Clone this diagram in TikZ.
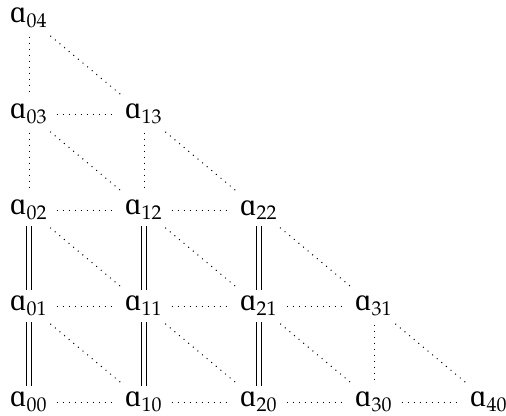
\documentclass[tikz,border=0pt]{standalone}
\usepackage{mathpazo}
\usepackage[no-math]{fontspec}
\newfontfamily\ipafont{Liberation Serif}
\begin{document}
\begin{tikzpicture}[x=0.4pt,y=0.4pt,
  lbl/.style={inner sep=2.5pt,outer sep=0pt,font=\fontsize{10.5}{12}\selectfont},
  dot/.style={dotted,line width=0.4pt,shorten >=1pt,shorten <=1pt},
  eqv/.style={double,double distance=1.5pt,line width=0.4pt}]
\useasboundingbox (0,0) rectangle (506,415);
\foreach \i/\j in {0/0,1/0,2/0,3/0,4/0,0/1,1/1,2/1,3/1,0/2,1/2,2/2,0/3,1/3,0/4}{
  \node[lbl] (a\i\j) at ({29+115*\i},{13+96*\j}) {$\mbox{\ipafont\fontsize{12.5}{13}\selectfont ɑ}_{\i\j}$};
}
% horizontals
\draw[dot] (a00) -- (a10); \draw[dot] (a10) -- (a20); \draw[dot] (a20) -- (a30); \draw[dot] (a30) -- (a40);
\draw[dot] (a01) -- (a11); \draw[dot] (a11) -- (a21); \draw[dot] (a21) -- (a31);
\draw[dot] (a02) -- (a12); \draw[dot] (a12) -- (a22);
\draw[dot] (a03) -- (a13);
% verticals dotted
\draw[dot] (a04) -- (a03); \draw[dot] (a03) -- (a02); \draw[dot] (a13) -- (a12); \draw[dot] (a31) -- (a30);
% double
\draw[eqv] (a02) -- (a01); \draw[eqv] (a01) -- (a00);
\draw[eqv] (a12) -- (a11); \draw[eqv] (a11) -- (a10);
\draw[eqv] (a22) -- (a21); \draw[eqv] (a21) -- (a20);
% diagonals
\draw[dot] (a04) -- (a13); \draw[dot] (a03) -- (a12); \draw[dot] (a13) -- (a22);
\draw[dot] (a02) -- (a11); \draw[dot] (a12) -- (a21); \draw[dot] (a22) -- (a31);
\draw[dot] (a01) -- (a10); \draw[dot] (a11) -- (a20); \draw[dot] (a21) -- (a30); \draw[dot] (a31) -- (a40);
\end{tikzpicture}
\end{document}
